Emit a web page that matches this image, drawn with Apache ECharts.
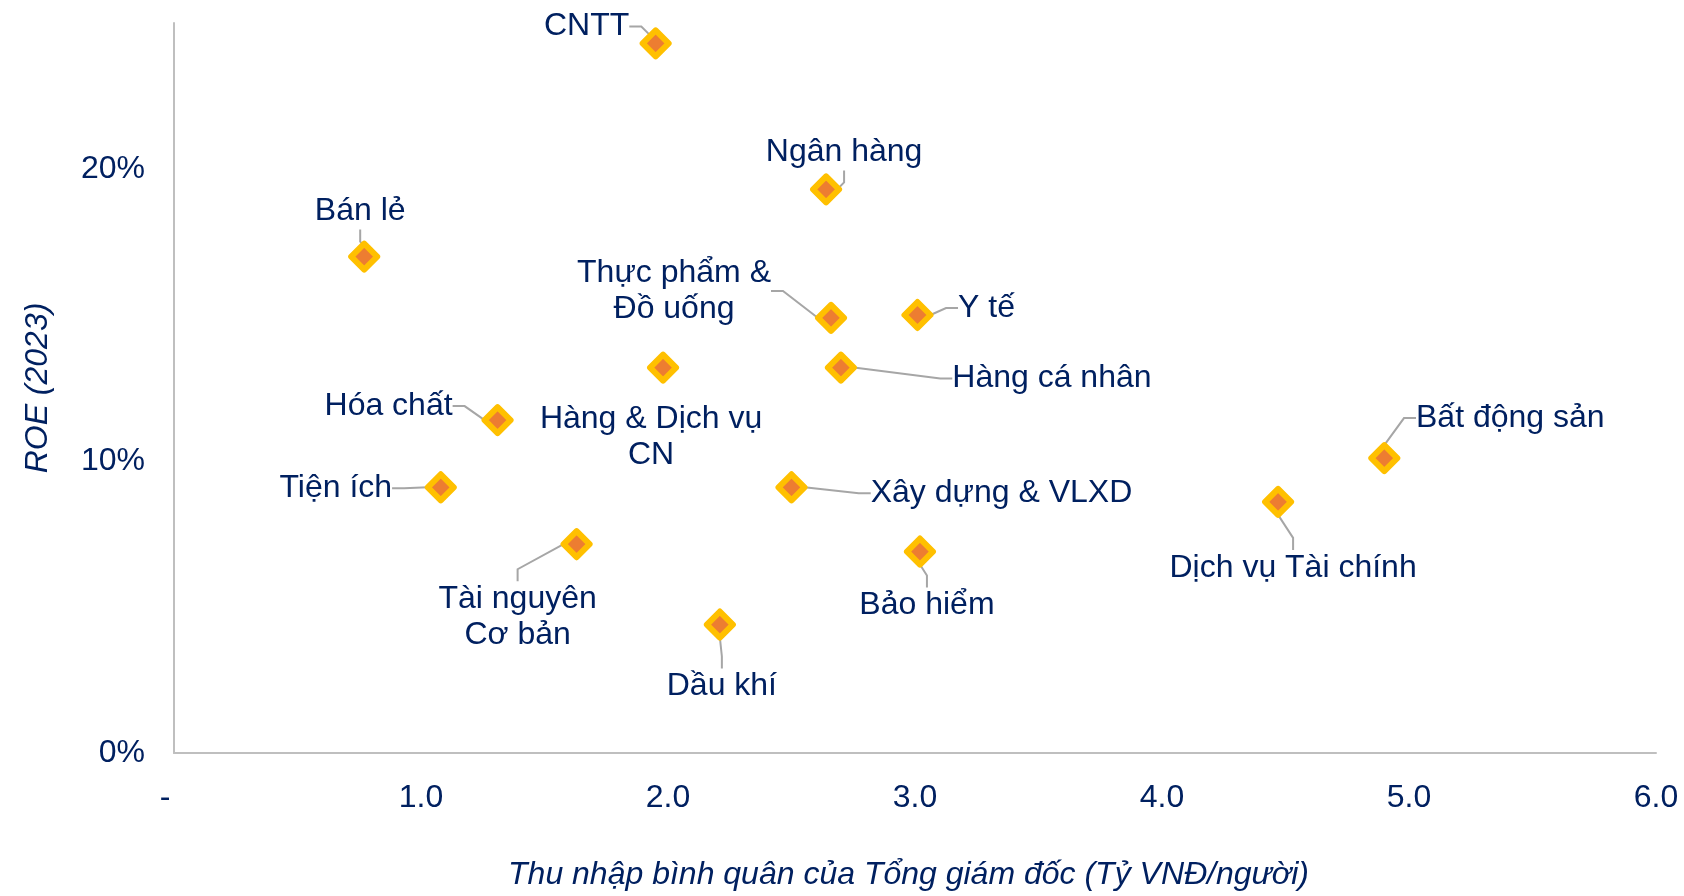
<!DOCTYPE html>
<html>
<head>
<meta charset="utf-8">
<script src="https://cdn.jsdelivr.net/npm/echarts@6/dist/echarts.min.js"></script>
<style>
  html, body { margin: 0; padding: 0; background: #fff; }
  #chart { width: 1684px; height: 896px; }
</style>
</head>
<body>
<div id="chart"></div>
<script>
// sectors and their values: CEO average income (bn VND/person) vs ROE 2023
var sectors = ['CNTT', 'Ngân hàng', 'Bán lẻ', 'Thực phẩm &\nĐồ uống', 'Y tế',
  'Hàng & Dịch vụ\nCN', 'Hàng cá nhân', 'Hóa chất', 'Bất động sản', 'Tiện ích',
  'Xây dựng & VLXD', 'Dịch vụ Tài chính', 'Tài nguyên\nCơ bản', 'Bảo hiểm', 'Dầu khí']
var ceoIncome = [1.95, 2.64, 0.77, 2.66, 3.01, 1.98, 2.70, 1.31, 4.90, 1.08, 2.50, 4.47, 1.63, 3.02, 2.21]
var roe = [0.243, 0.193, 0.170, 0.149, 0.150, 0.132, 0.132, 0.114, 0.101, 0.091, 0.091, 0.086, 0.0715, 0.069, 0.044]

// label placement (pixel offsets of label centre from the marker)
var labelOffsets = [[-69, -17], [18, -37], [-4, -45], [-157, -27], [69, -7],
  [-12, 70], [211, 11], [-109, -14], [126, -40], [-105, 1],
  [210, 6], [15, 66], [-59, 73], [7, 54], [2, 62]]
var noLeader = [5]

var FONT = '"Liberation Sans", Arial, sans-serif'
var NAVY = '#002060'

var points = sectors.map(function (name, i) {
  var item = { name: name, value: [ceoIncome[i], roe[i]] }
  if (noLeader.indexOf(i) >= 0) item.labelLine = { show: false }
  return item
})

var chart = echarts.init(document.getElementById('chart'))
chart.setOption({
  animation: false,
  grid: { left: 174, right: 28, top: 23, bottom: 139 },
  xAxis: {
    type: 'value',
    min: 0,
    max: 6,
    interval: 1,
    name: 'Thu nhập bình quân của Tổng giám đốc (Tỷ VNĐ/người)',
    nameLocation: 'middle',
    nameGap: 106,
    nameTextStyle: { color: NAVY, fontSize: 32, fontStyle: 'italic', fontFamily: FONT, padding: [0, 13, 0, 0] },
    axisLine: { show: true, lineStyle: { color: '#BFBFBF', width: 2 } },
    axisTick: { show: false },
    splitLine: { show: false },
    axisLabel: {
      color: NAVY, fontSize: 32, fontFamily: FONT, margin: 29,
      formatter: function (v) { return v === 0 ? '-  ' : v.toFixed(1) }
    }
  },
  yAxis: {
    type: 'value',
    min: 0,
    max: 0.25,
    interval: 0.1,
    name: 'ROE (2023)',
    nameLocation: 'middle',
    nameGap: 120,
    nameTextStyle: { color: NAVY, fontSize: 32, fontStyle: 'italic', fontFamily: FONT },
    axisLine: { show: true, lineStyle: { color: '#BFBFBF', width: 2 } },
    axisTick: { show: false },
    splitLine: { show: false },
    axisLabel: {
      color: NAVY, fontSize: 32, fontFamily: FONT, margin: 29,
      showMaxLabel: false,
      formatter: function (v) { return Math.round(v * 100) + '%' }
    }
  },
  series: [{
    type: 'scatter',
    symbol: 'diamond',
    symbolSize: 26,
    data: points,
    itemStyle: { color: '#ED7D31', borderColor: '#FFC000', borderWidth: 6, borderJoin: 'round', opacity: 1 },
    label: {
      show: true,
      position: 'inside',
      formatter: '{b}',
      color: NAVY,
      fontSize: 32,
      lineHeight: 36,
      fontFamily: FONT,
      align: 'center'
    },
    labelLine: {
      show: true,
      length2: 12,
      lineStyle: { color: '#A6A6A6', width: 2 }
    },
    labelLayout: function (params) {
      var off = labelOffsets[params.dataIndex]
      return { dx: off[0], dy: off[1] }
    },
    emphasis: { disabled: true }
  }]
})
</script>
</body>
</html>
